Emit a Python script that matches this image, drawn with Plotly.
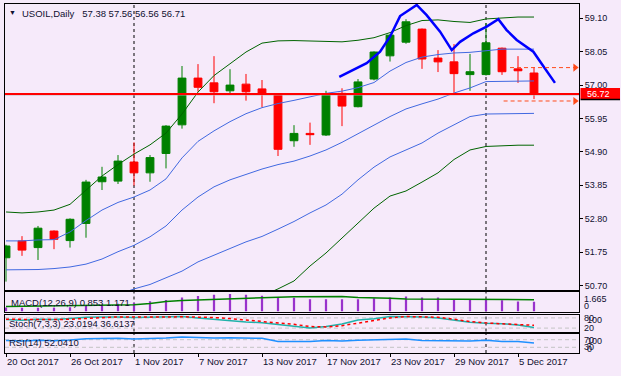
import plotly.graph_objects as go

# ---------------- data ----------------
dates = ['2017-10-20', '2017-10-23', '2017-10-24', '2017-10-25', '2017-10-26', '2017-10-27',
         '2017-10-30', '2017-10-31', '2017-11-01', '2017-11-02', '2017-11-03', '2017-11-06',
         '2017-11-07', '2017-11-08', '2017-11-09', '2017-11-10', '2017-11-13', '2017-11-14',
         '2017-11-15', '2017-11-16', '2017-11-17', '2017-11-20', '2017-11-21', '2017-11-22',
         '2017-11-23', '2017-11-24', '2017-11-27', '2017-11-28', '2017-11-29', '2017-11-30',
         '2017-12-01', '2017-12-04', '2017-12-05', '2017-12-06']
bars = list(range(len(dates)))

date_tick_labels = ['20 Oct 2017', '26 Oct 2017', '1 Nov 2017', '7 Nov 2017', '13 Nov 2017',
                    '17 Nov 2017', '23 Nov 2017', '29 Nov 2017', '5 Dec 2017']
date_tick_dates = ['2017-10-20', '2017-10-26', '2017-11-01', '2017-11-07', '2017-11-13',
                   '2017-11-17', '2017-11-23', '2017-11-29', '2017-12-05']
separator_dates = ['2017-11-01', '2017-12-01']

open_ = [51.57, 52.10, 51.89, 52.41, 52.11, 52.65, 53.96, 53.98, 54.58, 54.24, 54.85, 55.75,
         57.22, 57.07, 56.82, 57.03, 56.88, 56.72, 55.25, 55.48, 55.43, 56.74, 56.32, 57.19,
         57.92, 58.35, 58.76, 57.85, 57.73, 57.33, 57.33, 58.16, 57.51, 57.38]
high = [51.98, 52.25, 52.57, 52.43, 52.81, 54.02, 54.43, 54.80, 55.20, 54.80, 55.74, 57.60,
        57.66, 57.91, 57.50, 57.35, 57.16, 56.74, 55.74, 55.82, 56.82, 56.90, 57.19, 58.06,
        58.60, 59.07, 58.78, 58.10, 58.29, 57.98, 58.95, 58.18, 57.91, 57.56]
low = [50.82, 51.63, 51.50, 51.84, 51.89, 52.20, 53.70, 53.89, 53.84, 53.96, 54.38, 55.63,
       56.79, 56.43, 56.72, 56.51, 56.30, 54.77, 55.06, 55.12, 55.40, 55.71, 56.30, 57.15,
       57.74, 58.30, 57.51, 57.41, 56.76, 56.82, 57.30, 57.32, 57.07, 56.56]
close = [51.94, 51.81, 52.50, 52.15, 52.78, 53.95, 54.11, 54.61, 54.24, 54.72, 55.71, 57.22,
         56.93, 56.79, 57.00, 56.79, 56.72, 54.98, 55.48, 55.44, 56.72, 56.34, 57.10, 58.04,
         58.57, 58.99, 57.82, 57.73, 57.36, 57.42, 58.33, 57.42, 57.45, 56.71]

band_upper2 = [53.01, 52.98, 53.01, 53.07, 53.25, 53.70, 54.14, 54.50, 54.83, 55.12, 55.49, 56.09,
               56.78, 57.30, 57.66, 58.04, 58.32, 58.39, 58.40, 58.39, 58.37, 58.36, 58.41, 58.49,
               58.65, 58.87, 59.03, 59.05, 59.00, 58.97, 59.08, 59.12, 59.14, 59.14]
band_upper1 = [52.10, 52.10, 52.13, 52.14, 52.38, 52.74, 53.07, 53.31, 53.48, 53.70, 54.05, 54.71,
               55.23, 55.56, 55.85, 56.10, 56.29, 56.42, 56.52, 56.64, 56.74, 56.81, 56.92, 57.08,
               57.44, 57.71, 57.88, 57.96, 58.01, 58.03, 58.07, 58.13, 58.13, 58.13]
band_mid = [51.19, 51.19, 51.20, 51.23, 51.28, 51.37, 51.53, 51.76, 51.96, 52.23, 52.57, 53.07,
            53.48, 53.80, 54.02, 54.19, 54.36, 54.50, 54.61, 54.77, 54.96, 55.20, 55.46, 55.74,
            56.01, 56.25, 56.41, 56.56, 56.75, 56.91, 57.11, 57.12, 57.12, 57.13]
band_lower1_start = 7
band_lower1 = [50.40, 50.59, 50.73, 50.93, 51.15, 51.44, 51.66, 51.86, 52.07, 52.24, 52.47, 52.71,
               52.98, 53.23, 53.57, 54.02, 54.42, 54.74, 54.96, 55.18, 55.49, 55.74, 56.01, 56.09,
               56.10, 56.11, 56.11]
band_lower2_start = 16
band_lower2 = [50.37, 50.59, 50.84, 51.31, 51.72, 52.19, 52.69, 53.13, 53.51, 53.67, 53.95, 54.24,
               54.66, 54.96, 55.07, 55.10, 55.11, 55.11]

# hand-drawn blue polyline (bar position, price)
swing_bar = [20.83, 22.54, 23.38, 24.0, 24.63, 25.67, 26.29, 27.13, 27.86, 28.38, 29.21, 30.04,
             30.77, 31.29, 31.92, 32.96, 33.38, 34.31]
swing_price = [57.26, 57.69, 58.05, 58.52, 59.17, 59.52, 59.20, 58.68, 58.10, 58.36, 58.63, 58.84,
               59.07, 58.73, 58.42, 58.05, 57.74, 57.07]

level_line = 56.72
bid_line = 56.69
target_levels = [57.55, 56.50]
target_start_bar = [31.5, 31.1]
target_end_bar = [35.69, 35.69]

price_ticks = [50.70, 51.75, 52.80, 53.85, 54.90, 55.95, 57.00, 58.05, 59.10]

macd_hist = [0.35, 0.33, 0.33, 0.33, 0.36, 0.48, 0.58, 0.68, 0.76, 0.90, 1.00, 1.22, 1.36, 1.45,
             1.52, 1.46, 1.38, 1.24, 1.20, 1.07, 1.07, 1.07, 1.07, 1.15, 1.21, 1.30, 1.21, 1.21,
             1.09, 1.09, 1.09, 0.98, 0.87, 0.853]
macd_signal = [0.44, 0.46, 0.48, 0.50, 0.52, 0.52, 0.50, 0.52, 0.58, 0.70, 0.87, 0.95, 1.01, 1.05,
               1.09, 1.15, 1.20, 1.25, 1.28, 1.30, 1.30, 1.30, 1.21, 1.21, 1.15, 1.09, 1.09, 1.09,
               1.09, 1.09, 1.09, 1.09, 1.09, 1.03]
stoch_k = [70, 66, 72, 70, 76, 84, 85, 86, 82, 84, 86, 88, 80, 72, 62, 56, 52, 42, 30, 21, 30, 44,
           68, 75, 88, 89, 86, 80, 66, 54, 48, 46, 38, 23.02]
stoch_d = [72, 70, 70, 70, 72, 78, 84, 86, 85, 84, 85, 87, 86, 82, 76, 68, 60, 52, 42, 29, 27, 34,
           49, 66, 80, 88, 86, 84, 72, 58, 50, 46, 44, 36.61]
rsi = [66, 63, 67, 65, 69, 75, 76, 77, 74, 76, 79, 84, 81, 79, 80, 78, 77, 60, 61, 61, 66, 63, 67,
       70, 72, 74, 66, 65, 62, 63, 67, 61, 60, 52.04]
stoch_levels = [80, 20]
rsi_levels = [70, 30]

# ---------------- figure ----------------
BG = '#F6EAFA'
FONT = 'Liberation Sans, Arial, sans-serif'
W, H = 621, 376
ML, MR, MT, MB = 5, 42, 4, 23
PH = H - MT - MB  # plot height in px
PW = W - ML - MR


def py(p):  # figure pixel y -> paper y
    return (H - MB - p) / PH


def px(p):
    return (p - ML) / PW


idx = {d: i for i, d in enumerate(dates)}
fig = go.Figure()

GREEN_BAND = '#006400'
BLUE_BAND = '#4169E1'
fig.add_trace(go.Scatter(x=bars, y=band_upper2, mode='lines', line=dict(color=GREEN_BAND, width=1)))
fig.add_trace(go.Scatter(x=bars, y=band_upper1, mode='lines', line=dict(color=BLUE_BAND, width=1)))
fig.add_trace(go.Scatter(x=bars, y=band_mid, mode='lines', line=dict(color=BLUE_BAND, width=1)))
fig.add_trace(go.Scatter(x=bars[band_lower1_start:], y=band_lower1, mode='lines',
                         line=dict(color=BLUE_BAND, width=1)))
fig.add_trace(go.Scatter(x=bars[band_lower2_start:], y=band_lower2, mode='lines',
                         line=dict(color=GREEN_BAND, width=1)))

fig.add_trace(go.Candlestick(
    x=bars, open=open_, high=high, low=low, close=close, whiskerwidth=0,
    increasing=dict(line=dict(color='#008000', width=1), fillcolor='#008000'),
    decreasing=dict(line=dict(color='#FF0000', width=1), fillcolor='#FF0000'),
    xaxis='x', yaxis='y'))

fig.add_trace(go.Scatter(x=swing_bar, y=swing_price, mode='lines',
                         line=dict(color='#0000FF', width=2.5)))

for lvl, b0, b1 in zip(target_levels, target_start_bar, target_end_bar):
    fig.add_trace(go.Scatter(x=[b0, b1], y=[lvl, lvl], mode='lines',
                             line=dict(color='#FF4A1A', width=1, dash='4px,3px')))
    fig.add_trace(go.Scatter(x=[b1 - 0.12], y=[lvl], mode='markers',
                             marker=dict(symbol='triangle-right', size=7, color='#FF4A1A')))

# MACD
fig.add_trace(go.Bar(x=bars, y=macd_hist, width=0.14, marker=dict(color='#9932CC', line=dict(width=0)),
                     xaxis='x2', yaxis='y2'))
fig.add_trace(go.Scatter(x=bars, y=macd_signal, mode='lines', line=dict(color='#008000', width=1.5),
                         xaxis='x2', yaxis='y2'))
# Stochastic
fig.add_trace(go.Scatter(x=bars, y=stoch_k, mode='lines', line=dict(color='#20B2AA', width=1.5),
                         xaxis='x3', yaxis='y3'))
fig.add_trace(go.Scatter(x=bars, y=stoch_d, mode='lines',
                         line=dict(color='#FF0000', width=1.5, dash='3px,3px'),
                         xaxis='x3', yaxis='y3'))
# RSI
fig.add_trace(go.Scatter(x=bars, y=rsi, mode='lines', line=dict(color='#1E90FF', width=1.5),
                         xaxis='x4', yaxis='y4'))

shapes = []
for d in separator_dates:
    b = idx[d]
    for yr in ['y domain', 'y2 domain', 'y3 domain', 'y4 domain']:
        xr = 'x' if yr.startswith('y ') else 'x' + yr[1]
        shapes.append(dict(type='line', xref=xr, yref=yr, x0=b, x1=b, y0=0, y1=1,
                           line=dict(color='black', width=1, dash='3px,3px'), layer='below'))
for lvl in stoch_levels:
    shapes.append(dict(type='line', xref='x3 domain', yref='y3', x0=0, x1=1, y0=lvl, y1=lvl,
                       line=dict(color='#C4C4C4', width=1, dash='4px,3px'), layer='below'))
for lvl in rsi_levels:
    shapes.append(dict(type='line', xref='x4 domain', yref='y4', x0=0, x1=1, y0=lvl, y1=lvl,
                       line=dict(color='#C4C4C4', width=1, dash='4px,3px'), layer='below'))
shapes.append(dict(type='line', xref='x domain', yref='y', x0=0, x1=1, y0=bid_line, y1=bid_line,
                   line=dict(color='#B8B8B8', width=1), layer='above'))
shapes.append(dict(type='line', xref='x domain', yref='y', x0=0, x1=1, y0=level_line, y1=level_line,
                   line=dict(color='#FF0000', width=2), layer='above'))

ann = []
TXT = '#101030'
ann.append(dict(text='▼', x=px(12), y=py(13), xref='paper', yref='paper', xanchor='center',
                yanchor='middle', showarrow=False, font=dict(family=FONT, size=7, color=TXT)))
ann.append(dict(text='USOIL,Daily&nbsp;&nbsp;&nbsp;57.38 57.56 56.56 56.71', x=px(19.5), y=py(13.3),
                xref='paper', yref='paper', xanchor='left', yanchor='middle', showarrow=False,
                font=dict(family=FONT, size=9.5, color=TXT)))
for t, x0, y0 in [('MACD(12,26,9) 0.853 1.171', 8.5, 302),
                  ('Stoch(7,3,3) 23.0194 36.6137', 6.5, 323),
                  ('RSI(14) 52.0410', 6.5, 342.5)]:
    ann.append(dict(text=t, x=px(x0), y=py(y0), xref='paper', yref='paper', xanchor='left',
                    yanchor='middle', showarrow=False, font=dict(family=FONT, size=9.5, color=TXT)))
panel_labels = [('1.665', 582, 298.5), ('0', 582, 305.5), ('80', 582, 318), ('100', 585, 320),
                ('20', 582, 327.5), ('70', 582, 339.5), ('100', 585, 341), ('30', 582, 347),
                ('0', 585, 349)]
for t, x0, y0 in panel_labels:
    ann.append(dict(text=t, x=px(x0), y=py(y0), xref='paper', yref='paper', xanchor='left',
                    yanchor='middle', showarrow=False, font=dict(family=FONT, size=9, color=TXT)))

# red price tag on the price scale
shapes.append(dict(type='rect', xref='paper', yref='paper', x0=px(580.5), x1=px(620),
                   y0=py(99), y1=py(88), fillcolor='#FF0000', line=dict(width=0), layer='above'))
shapes.append(dict(type='line', xref='paper', yref='paper', x0=px(580.5), x1=px(620),
                   y0=py(99.6), y1=py(99.6), line=dict(color='black', width=1.5)))
ann.append(dict(text='%.2f' % level_line, x=px(584.5), y=level_line, xref='paper', yref='y',
                xanchor='left', yanchor='middle', showarrow=False,
                font=dict(family=FONT, size=9, color='white')))

axis_common = dict(showgrid=False, zeroline=False, showline=True, mirror=True, linecolor='black',
                   linewidth=1, range=[-0.0625, 35.8125], fixedrange=True)
doms = [[py(290), 1.0], [py(311.5), py(292)], [py(331.5), py(314.5)], [0.0, py(334)]]

fig.update_layout(
    width=W, height=H, margin=dict(l=ML, r=MR, t=MT, b=MB),
    paper_bgcolor=BG, plot_bgcolor=BG, showlegend=False, boxgap=0.3,
    font=dict(family=FONT, size=9.5, color=TXT),
    xaxis=dict(**axis_common, anchor='y', showticklabels=False, rangeslider=dict(visible=False)),
    xaxis2=dict(**axis_common, anchor='y2', matches='x', showticklabels=False),
    xaxis3=dict(**axis_common, anchor='y3', matches='x', showticklabels=False),
    xaxis4=dict(**axis_common, anchor='y4', matches='x',
                tickvals=[idx[d] for d in date_tick_dates], ticktext=date_tick_labels,
                ticks='outside', ticklen=3, tickcolor='black', ticklabelposition='outside right',
                tickfont=dict(family=FONT, size=9.5, color=TXT)),
    yaxis=dict(domain=doms[0], side='right', range=[50.556, 59.55], showgrid=False, zeroline=False,
               showline=True, mirror=True, linecolor='black', tickvals=price_ticks,
               ticktext=['%.2f' % v for v in price_ticks], ticks='outside', ticklen=3,
               tickcolor='black', tickfont=dict(family=FONT, size=9, color=TXT), fixedrange=True),
    yaxis2=dict(domain=doms[1], range=[0, 1.70], showgrid=False, zeroline=False, showline=True,
                mirror=True, linecolor='black', showticklabels=False, fixedrange=True),
    yaxis3=dict(domain=doms[2], range=[0, 100], showgrid=False, zeroline=False, showline=True,
                mirror=True, linecolor='black', showticklabels=False, fixedrange=True),
    yaxis4=dict(domain=doms[3], range=[0, 100], showgrid=False, zeroline=False, showline=True,
                mirror=True, linecolor='black', showticklabels=False, fixedrange=True),
    shapes=shapes, annotations=ann,
)

fig.write_html('out.html', config={'displayModeBar': False, 'staticPlot': True},
               post_script="document.body.style.margin='0';"
                           "document.body.style.background='" + BG + "';")
